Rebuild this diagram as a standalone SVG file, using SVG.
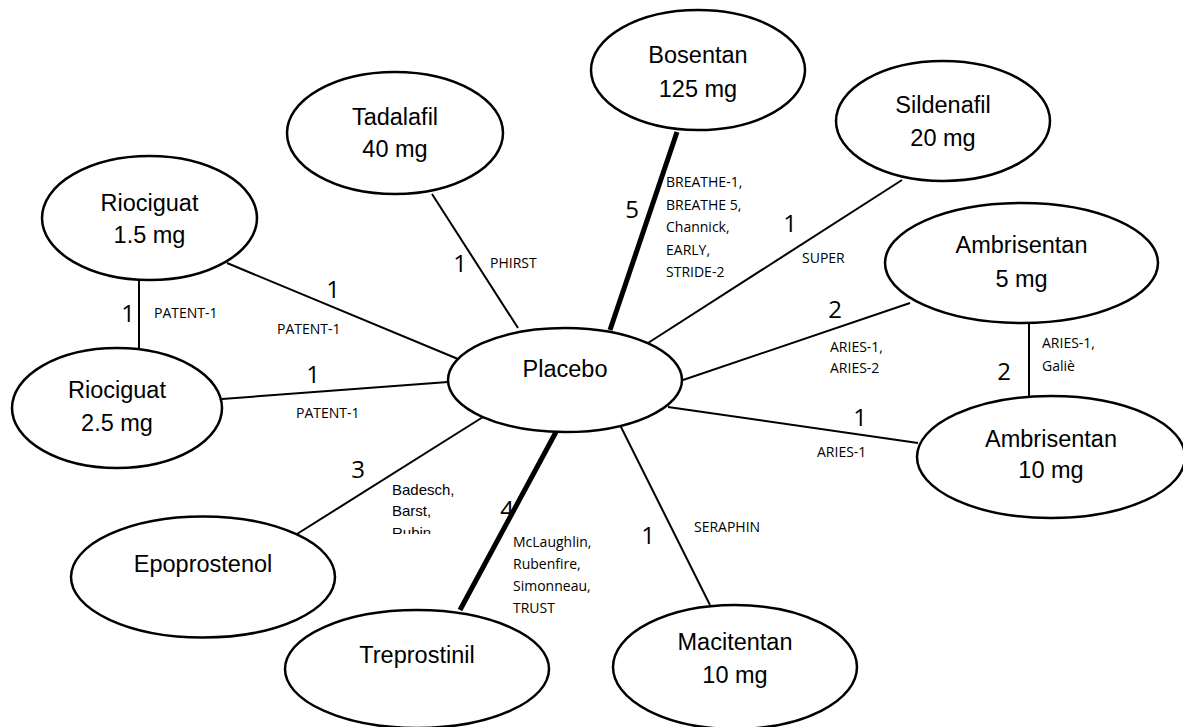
<svg xmlns="http://www.w3.org/2000/svg" width="1183" height="727" viewBox="0 0 1183 727">
<defs>
<style>
.node ellipse{fill:#fff;stroke:#000;stroke-width:2.5}
.node text{font-family:"Liberation Sans",Arial,sans-serif;font-size:23.5px;text-anchor:middle;fill:#000}
.edge{stroke:#000;stroke-width:2;fill:none}
.thick{stroke-width:5}
.n{font-family:"Open Sans","Liberation Sans",sans-serif;font-size:24px;text-anchor:middle;fill:#000}
.l{font-family:"Open Sans","Liberation Sans",sans-serif;font-size:14px;fill:#000}
.la{font-family:"Liberation Sans",Arial,sans-serif;font-size:15px;fill:#000}
</style>
<clipPath id="clipEpo"><rect x="380" y="470" width="120" height="64"/></clipPath>
</defs>
<rect width="1183" height="727" fill="#fff"/>
<g id="connectors">
<line class="edge" x1="432" y1="194" x2="518" y2="328"/>
<line class="edge thick" x1="677" y1="132" x2="610" y2="330"/>
<line class="edge" x1="902" y1="180" x2="648" y2="343"/>
<line class="edge" x1="227" y1="263" x2="458" y2="359"/>
<line class="edge" x1="139" y1="280" x2="139" y2="348"/>
<line class="edge" x1="222" y1="399" x2="448" y2="382"/>
<line class="edge" x1="910" y1="303" x2="683" y2="380"/>
<line class="edge" x1="1029" y1="323" x2="1029" y2="397"/>
<line class="edge" x1="918" y1="443" x2="668" y2="407"/>
<line class="edge" x1="297" y1="534" x2="483" y2="417"/>
<line class="edge thick" x1="556" y1="432" x2="460" y2="610"/>
<line class="edge" x1="620" y1="425" x2="710" y2="605"/>
</g>
<g id="edge-labels">
<text class="n" x="460" y="272">1</text>
<text class="l" x="490" y="268">PHIRST</text>
<text class="n" x="632" y="218">5</text>
<text class="l" x="666" y="187">BREATHE-1,</text>
<text class="l" x="666" y="209.5">BREATHE 5,</text>
<text class="l" x="666" y="232">Channick,</text>
<text class="l" x="666" y="254.5">EARLY,</text>
<text class="l" x="666" y="277">STRIDE-2</text>
<text class="n" x="790" y="232">1</text>
<text class="l" x="802" y="263">SUPER</text>
<text class="n" x="333" y="298">1</text>
<text class="l" x="277" y="334">PATENT-1</text>
<text class="n" x="128" y="322">1</text>
<text class="l" x="154" y="318">PATENT-1</text>
<text class="n" x="313" y="383">1</text>
<text class="l" x="296" y="418">PATENT-1</text>
<text class="n" x="835" y="318">2</text>
<text class="l" x="830" y="352">ARIES-1,</text>
<text class="l" x="830" y="373">ARIES-2</text>
<text class="n" x="1004" y="380">2</text>
<text class="l" x="1042" y="348">ARIES-1,</text>
<text class="l" x="1042" y="371">Galiè</text>
<text class="n" x="860" y="426">1</text>
<text class="l" x="817" y="457">ARIES-1</text>
<text class="n" x="358" y="478">3</text>
<g clip-path="url(#clipEpo)">
<text class="la" x="392" y="495">Badesch,</text>
<text class="la" x="392" y="516">Barst,</text>
<text class="la" x="392" y="538">Rubin</text>
</g>
<text class="n" x="507" y="518">4</text>
<text class="l" x="513" y="547">McLaughlin,</text>
<text class="l" x="513" y="569">Rubenfire,</text>
<text class="l" x="513" y="591">Simonneau,</text>
<text class="l" x="513" y="613">TRUST</text>
<text class="n" x="648" y="544">1</text>
<text class="l" x="694" y="532">SERAPHIN</text>
</g>
<g id="node-placebo" class="node"><ellipse cx="565" cy="380" rx="117" ry="52"/><text x="565" y="377">Placebo</text></g>
<g id="node-bosentan" class="node"><ellipse cx="698" cy="70" rx="107" ry="60"/><text x="698" y="63">Bosentan</text><text x="698" y="97">125 mg</text></g>
<g id="node-tadalafil" class="node"><ellipse cx="395" cy="133" rx="108" ry="61"/><text x="395" y="125">Tadalafil</text><text x="395" y="157">40 mg</text></g>
<g id="node-sildenafil" class="node"><ellipse cx="943" cy="121" rx="107" ry="60"/><text x="943" y="113">Sildenafil</text><text x="943" y="146">20 mg</text></g>
<g id="node-riociguat15" class="node"><ellipse cx="149.5" cy="218" rx="107.5" ry="62"/><text x="149.5" y="211">Riociguat</text><text x="149.5" y="243">1.5 mg</text></g>
<g id="node-riociguat25" class="node"><ellipse cx="117" cy="408" rx="105" ry="60"/><text x="117" y="398">Riociguat</text><text x="117" y="431">2.5 mg</text></g>
<g id="node-ambrisentan5" class="node"><ellipse cx="1021.5" cy="263" rx="136.5" ry="60"/><text x="1021.5" y="253">Ambrisentan</text><text x="1021.5" y="287">5 mg</text></g>
<g id="node-ambrisentan10" class="node"><ellipse cx="1051" cy="457" rx="134" ry="61"/><text x="1051" y="447">Ambrisentan</text><text x="1051" y="478">10 mg</text></g>
<g id="node-epoprostenol" class="node"><ellipse cx="203" cy="577" rx="132" ry="60.5"/><text x="203" y="572">Epoprostenol</text></g>
<g id="node-treprostinil" class="node"><ellipse cx="417" cy="669" rx="132" ry="59"/><text x="417" y="663">Treprostinil</text></g>
<g id="node-macitentan" class="node"><ellipse cx="735" cy="667" rx="122" ry="62"/><text x="735" y="650">Macitentan</text><text x="735" y="683">10 mg</text></g>
</svg>
